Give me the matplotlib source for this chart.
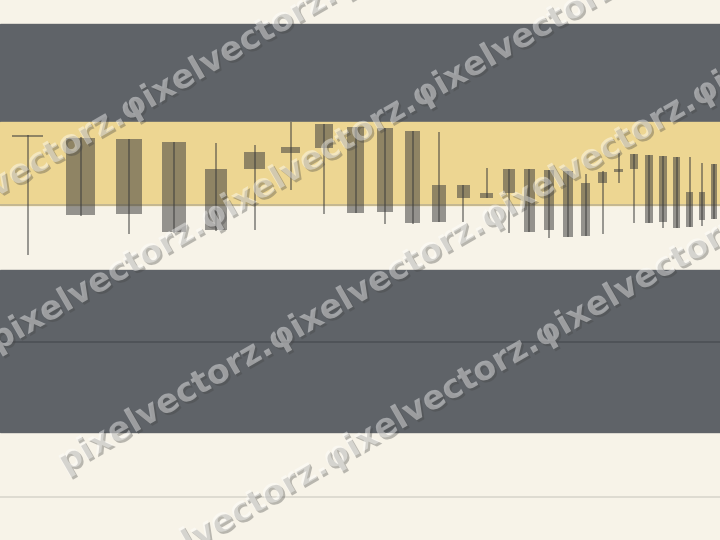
import matplotlib
matplotlib.use('Agg')
import matplotlib.pyplot as plt
import matplotlib.patheffects as pe
from matplotlib.transforms import IdentityTransform

# candle data (x = session number, prices on a 0-100 scale)
days = [23, 24, 25, 26, 27, 28, 29, 30, 31, 32, 33, 34, 35, 36,
        37, 38, 39, 40, 41, 42, 43, 44, 45, 46, 47, 48, 49, 50]
opens = [75.09, 74.50, 74.20, 73.76, 68.70, 71.80, 72.83, 76.98, 76.54, 76.24,
         75.80, 65.74, 65.74, 64.20, 68.70, 68.65, 68.52, 68.39, 66.06, 68.20,
         68.65, 71.43, 71.30, 71.17, 70.98, 64.39, 64.39, 69.57]
closes = [74.54, 60.19, 60.31, 56.98, 57.41, 68.65, 71.61, 72.65, 60.61, 60.80,
          58.65, 58.83, 63.28, 63.28, 64.31, 57.09, 57.41, 56.17, 56.35, 66.17,
          68.20, 68.65, 58.65, 58.94, 57.83, 58.02, 59.26, 59.44]
highs = [75.09, 74.57, 74.20, 73.76, 73.46, 73.15, 77.41, 77.00, 76.54, 76.24,
         75.80, 75.50, 65.74, 68.83, 68.70, 68.65, 68.52, 68.39, 67.78, 68.30,
         71.61, 71.43, 71.30, 71.17, 70.98, 70.98, 69.76, 69.57]
lows = [52.78, 60.06, 56.61, 56.85, 57.22, 57.41, 64.81, 60.37, 60.56, 58.46,
        58.60, 58.80, 58.94, 63.28, 56.85, 57.09, 55.87, 56.17, 56.35, 56.61,
        66.06, 58.65, 58.65, 57.72, 57.83, 58.02, 58.15, 59.44]

# shaded zones and reference lines
dark_zones = [(20.0, 50.0), (77.41, 95.56)]
gold_zone = (62.04, 77.41)
ref_levels = [62.04, 36.67, 7.96]
ref_colors = ['#bdb291', '#4c5055', '#dad7cd']

watermark = 'pixelvectorz.' + 'φixelvectorz.' * 4
# start of each watermark row in pixels (x, y from top)
wm_rows = [(65, 473), (-3, 352), (-83, 243), (-92, 714)]

fig = plt.figure(figsize=(7.2, 5.4), dpi=100, facecolor='#f7f3e8')
ax = fig.add_axes([0, 0, 1, 1])
ax.set_facecolor('#f7f3e8')

ax.set_xscale('function', functions=(lambda x: -1 / x, lambda y: -1 / y))
ax.set_xlim(22.51, 50.52)
ax.set_ylim(0, 100)

for lo, hi in dark_zones:
    ax.axhspan(lo, hi, color='#5f6368', zorder=0)
ax.axhspan(gold_zone[0], gold_zone[1], color='#edd692', zorder=0)
for lvl, c in zip(ref_levels, ref_colors):
    ax.axhline(lvl, color=c, lw=1.2, zorder=1)

body_bottom = [min(o, c) for o, c in zip(opens, closes)]
body_height = [max(abs(o - c), 0.4) for o, c in zip(opens, closes)]
ax.bar(days, body_height, bottom=body_bottom, width=0.56,
       color='#3a3a3a', alpha=0.52, zorder=2)
ax.vlines(days, lows, highs, color='#3a3a3a', alpha=0.55, lw=1.3, zorder=3)

ax.set_xticks([])
ax.set_yticks([])
for s in ax.spines.values():
    s.set_visible(False)

# watermark rows
for x0, y0 in wm_rows:
    fig.text(x0, 540 - y0, watermark, transform=IdentityTransform(),
             rotation=30, rotation_mode='anchor', ha='left', va='baseline',
             fontsize=24, fontweight='bold', color=(1, 1, 1, 0.42),
             path_effects=[pe.withSimplePatchShadow(offset=(1.5, -1.5),
                                                    shadow_rgbFace='#444444',
                                                    alpha=0.35)],
             zorder=10)

plt.savefig('out.png', dpi=100, facecolor=fig.get_facecolor())
